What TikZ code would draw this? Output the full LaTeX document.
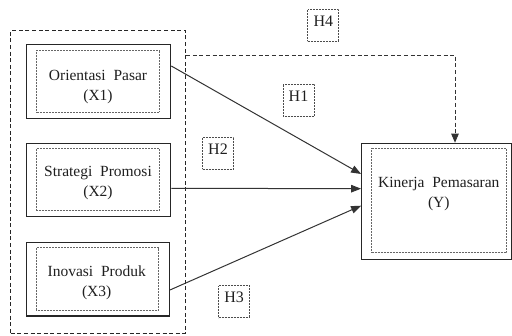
\documentclass[tikz,border=0pt]{standalone}
\usepackage{fontspec}
\setmainfont{Liberation Serif}
\usetikzlibrary{arrows.meta,calc}
\tikzset{
  solidbox/.style={draw=black!85, line width=1.2pt, inner sep=0pt},
  grpbox/.style={draw=black!85, line width=0.9pt, dash pattern=on 4pt off 2.6pt, inner sep=0pt},
  dotbox/.style={draw=black!60, line width=0.8pt, dash pattern=on 0.8pt off 0.7pt},
  vartext/.style={inner sep=0pt, align=center, text=black!88, font=\fontsize{15.5}{20}\selectfont},
  hyp/.style={draw=black!70, line width=0.8pt, dash pattern=on 0.8pt off 0.7pt, inner sep=0pt,
    minimum width=31pt, minimum height=32pt, text height=11pt, text depth=9pt,
    text=black!88, font=\fontsize{16}{19}\selectfont},
  path/.style={draw=black!80, line width=1pt, -{Triangle[length=10pt,width=7.5pt]}},
  dpath/.style={draw=black!80, line width=0.9pt, dash pattern=on 4pt off 2.6pt,
    -{Triangle[length=9pt,width=7.5pt]}},
}
\begin{document}
\begin{tikzpicture}[x=1pt,y=-1pt]
  \useasboundingbox (0,0) rectangle (512,336);

  % dashed frame around the independent variables
  \node[grpbox, minimum width=175pt, minimum height=302.3pt] (grp) at (98.2,181.85) {};

  % variable boxes
  \node[solidbox, minimum width=144pt, minimum height=74pt] (x1) at (98.7,81.3) {};
  \node[solidbox, minimum width=144pt, minimum height=73.4pt] (x2) at (98.7,180) {};
  \node[solidbox, minimum width=142.7pt, minimum height=73.3pt] (x3) at (98,279.3) {};
  \node[solidbox, minimum width=149.8pt, minimum height=116pt] (y) at (436.6,201.3) {};

  % inner dotted frames
  \draw[dotbox] ($(x1.north west)+(10,6.4)$) rectangle ($(x1.south east)+(-12,-6.6)$);
  \draw[dotbox] ($(x2.north west)+(10,6)$) rectangle ($(x2.south east)+(-12,-6.7)$);
  \draw[dotbox] ($(x3.north west)+(10,5.6)$) rectangle ($(x3.south east)+(-11.6,-6)$);
  \draw[dotbox] ($(y.north west)+(10,5.7)$) rectangle ($(y.south east)+(-5.5,-7)$);

  % variable names
  \node[vartext] (x1t) at (98,87) {Orientasi\ \ Pasar\\(X1)};
  \node[vartext] (x2t) at (98,183) {Strategi\ \ Promosi\\(X2)};
  \node[vartext] (x3t) at (96.7,282.5) {Inovasi\ \ Produk\\(X3)};
  \node[vartext] (yt) at (438.8,193.9) {Kinerja\ \ Pemasaran\\(Y)};

  % hypothesis labels
  \node[hyp] (h4) at (323.3,25.5) {H4};
  \node[hyp] (h1) at (298.5,100.5) {H1};
  \node[hyp] (h2) at (218,153.3) {H2};
  \node[hyp] (h3) at (234.2,301.6) {H3};

  % paths
  \draw[path] ([yshift=15.3pt]x1.east) -- ([yshift=27.3pt]y.west);
  \draw[path] ([yshift=-8.3pt]x2.east) -- ([yshift=12.6pt]y.west);
  \draw[path] ([yshift=-10.7pt]x3.east) -- ([yshift=-4.4pt]y.west);
  \draw[dpath] ([yshift=126.85pt]grp.east) -| ([xshift=18.4pt]y.north);
\end{tikzpicture}
\end{document}
